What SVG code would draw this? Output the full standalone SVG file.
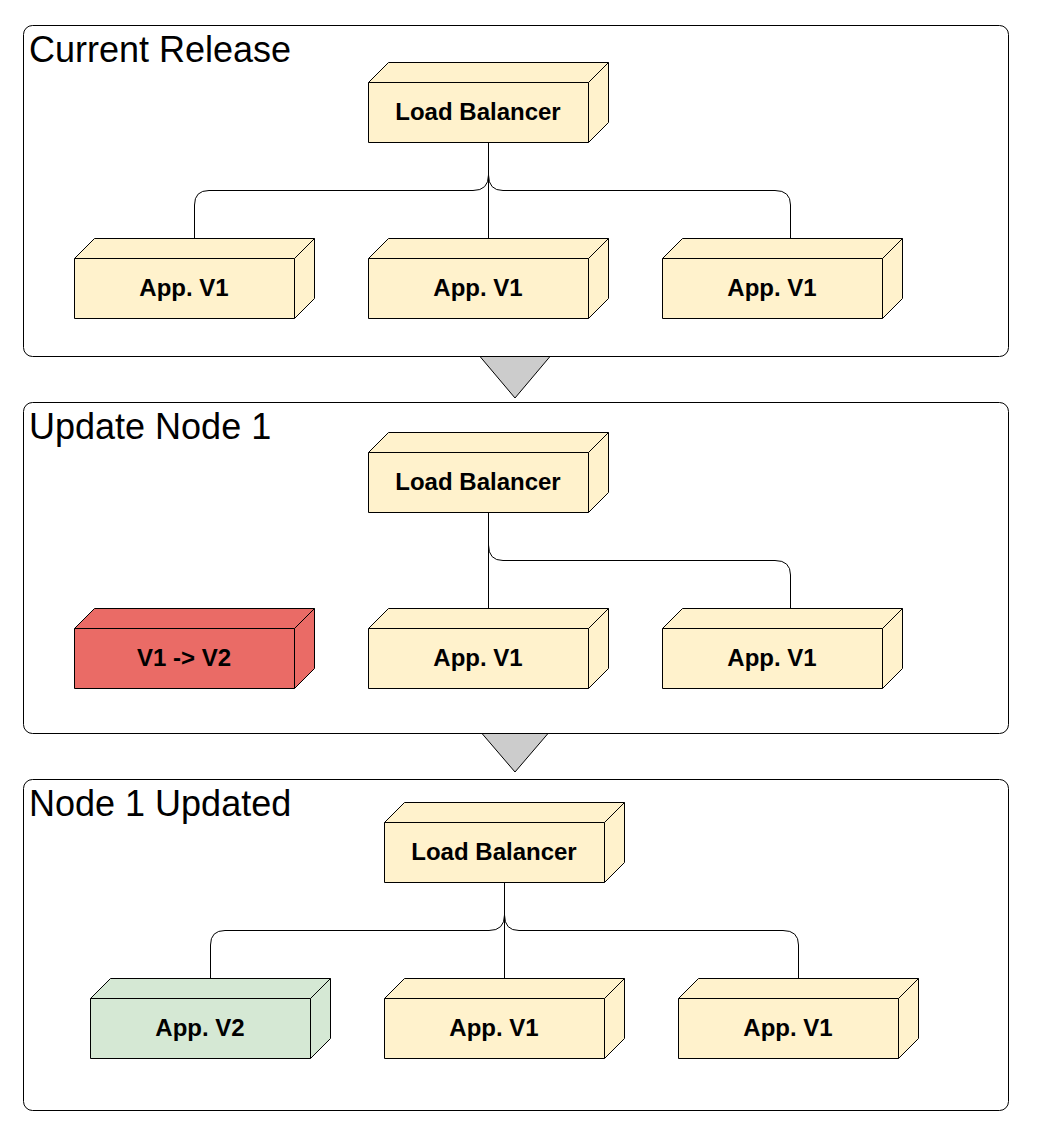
<svg xmlns="http://www.w3.org/2000/svg" width="1040" height="1142" viewBox="0 0 1040 1142">
<style>
.panel{fill:#ffffff;stroke:#000000;stroke-width:1}
.title{font-family:"Liberation Sans",Arial,sans-serif;font-size:36px;fill:#000000}
.lbl{font-family:"Liberation Sans",Arial,sans-serif;font-size:24px;font-weight:bold;fill:#000000;text-anchor:middle}
.edge{fill:none;stroke:#000000;stroke-width:1}
.arrow{fill:#cccccc;stroke:#000000;stroke-width:1}
.yellow{fill:#fff2cc}
.red{fill:#ea6b66}
.green{fill:#d5e8d4}
</style>
<defs>
<g id="box">
<path d="M0,20 L20,0 L240,0 L240,60 L220,80 L0,80 Z" stroke="#000000" stroke-width="1"/>
<path d="M0,20 L220,20 L240,0 M220,20 L220,80" fill="none" stroke="#000000" stroke-width="1"/>
</g>
</defs>
<g id="panels">
<rect id="panel1" class="panel" x="23.5" y="25.5" width="985" height="331" rx="9"/>
<rect id="panel2" class="panel" x="23.5" y="402.5" width="985" height="331" rx="9"/>
<rect id="panel3" class="panel" x="23.5" y="779.5" width="985" height="331" rx="9"/>
<text class="title" x="29" y="62">Current Release</text>
<text class="title" x="29" y="439">Update Node 1</text>
<text class="title" x="29" y="816">Node 1 Updated</text>
</g>
<g id="connectors">
<path class="edge" d="M488.5,142 V238"/>
<path class="edge" d="M488.5,142 V175 Q488.5,190.5 473,190.5 H209 Q194.5,190.5 194.5,205 V238"/>
<path class="edge" d="M488.5,142 V175 Q488.5,190.5 503,190.5 H775 Q790.5,190.5 790.5,205 V238"/>
<path class="edge" d="M488.5,512 V608"/>
<path class="edge" d="M488.5,512 V545 Q488.5,560.5 503,560.5 H775 Q790.5,560.5 790.5,575 V608"/>
<path class="edge" d="M504.5,882 V978"/>
<path class="edge" d="M504.5,882 V915 Q504.5,930.5 489,930.5 H225 Q210.5,930.5 210.5,945 V978"/>
<path class="edge" d="M504.5,882 V915 Q504.5,930.5 519,930.5 H783 Q798.5,930.5 798.5,945 V978"/>
<path class="arrow" d="M480,356.5 L550,356.5 L515,398 Z"/>
<path class="arrow" d="M482,733.5 L548,733.5 L515,772 Z"/>
</g>
<g id="lb1"><use href="#box" class="yellow" x="368.5" y="62.5"/><text class="lbl" x="478" y="120">Load Balancer</text></g>
<g id="app1a"><use href="#box" class="yellow" x="74.5" y="238.5"/><text class="lbl" x="184" y="296">App. V1</text></g>
<g id="app1b"><use href="#box" class="yellow" x="368.5" y="238.5"/><text class="lbl" x="478" y="296">App. V1</text></g>
<g id="app1c"><use href="#box" class="yellow" x="662.5" y="238.5"/><text class="lbl" x="772" y="296">App. V1</text></g>
<g id="lb2"><use href="#box" class="yellow" x="368.5" y="432.5"/><text class="lbl" x="478" y="490">Load Balancer</text></g>
<g id="upd2a"><use href="#box" class="red" x="74.5" y="608.5"/><text class="lbl" x="184" y="666">V1 -&gt; V2</text></g>
<g id="app2b"><use href="#box" class="yellow" x="368.5" y="608.5"/><text class="lbl" x="478" y="666">App. V1</text></g>
<g id="app2c"><use href="#box" class="yellow" x="662.5" y="608.5"/><text class="lbl" x="772" y="666">App. V1</text></g>
<g id="lb3"><use href="#box" class="yellow" x="384.5" y="802.5"/><text class="lbl" x="494" y="860">Load Balancer</text></g>
<g id="app3a"><use href="#box" class="green" x="90.5" y="978.5"/><text class="lbl" x="200" y="1036">App. V2</text></g>
<g id="app3b"><use href="#box" class="yellow" x="384.5" y="978.5"/><text class="lbl" x="494" y="1036">App. V1</text></g>
<g id="app3c"><use href="#box" class="yellow" x="678.5" y="978.5"/><text class="lbl" x="788" y="1036">App. V1</text></g>
</svg>
